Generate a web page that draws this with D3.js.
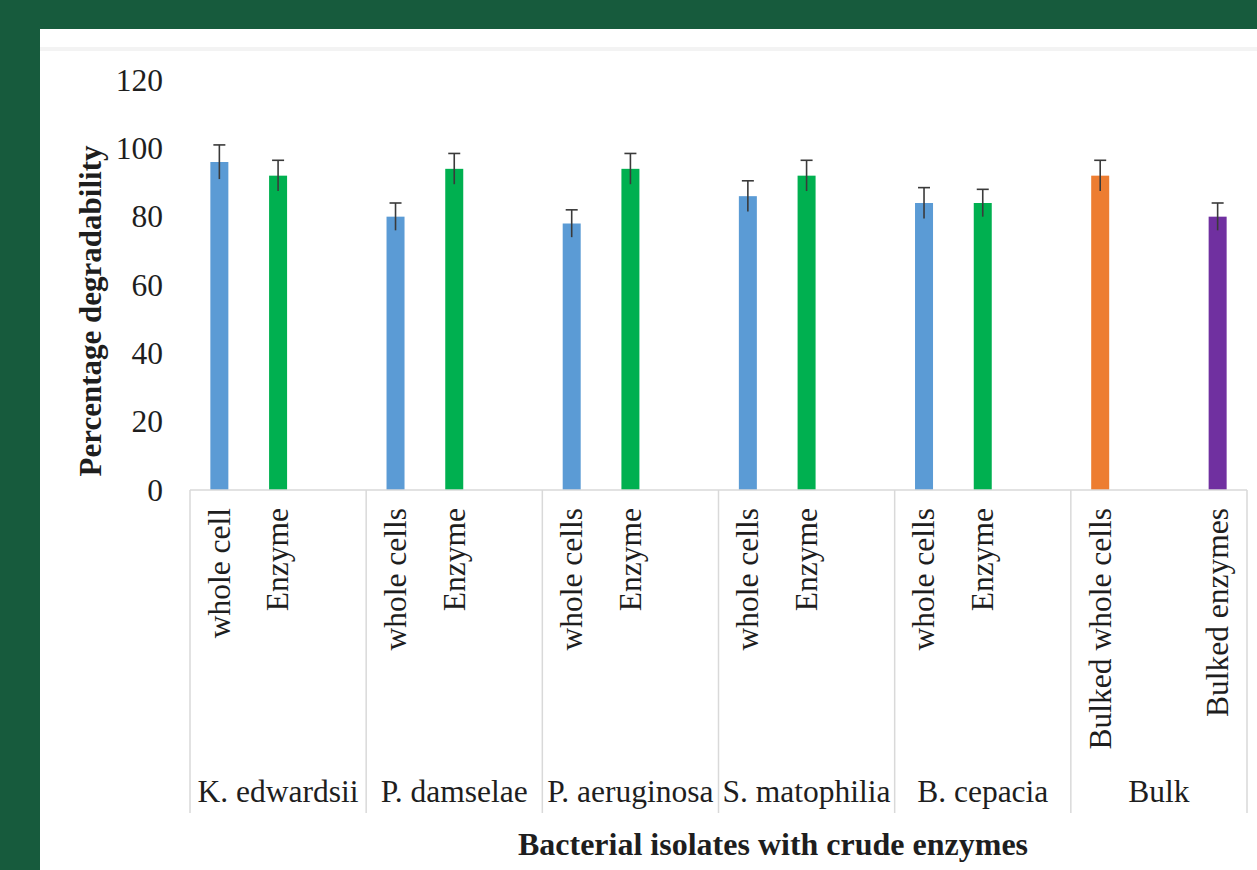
<!DOCTYPE html>
<html>
<head>
<meta charset="utf-8">
<script src="https://cdn.jsdelivr.net/npm/d3@7"></script>
<style>
  html, body { margin: 0; padding: 0; background: #175b3d; }
  svg { display: block; }
</style>
</head>
<body>
<div id="chart"></div>
<script>
// Groups (bacterial isolates) and their three category slots each
const groups = ["K. edwardsii", "P. damselae", "P. aeruginosa", "S. matophilia", "B. cepacia", "Bulk"];
const slotLabels = [
    ["whole cell", "Enzyme", ""],
    ["whole cells", "Enzyme", ""],
    ["whole cells", "Enzyme", ""],
    ["whole cells", "Enzyme", ""],
    ["whole cells", "Enzyme", ""],
    ["Bulked whole cells", "", "Bulked enzymes"]
];
const slotSeries = [
    ["whole", "enzyme", null],
    ["whole", "enzyme", null],
    ["whole", "enzyme", null],
    ["whole", "enzyme", null],
    ["whole", "enzyme", null],
    ["bulkWhole", null, "bulkEnzyme"]
];
const values = [
    [96, 92, null],
    [80, 94, null],
    [78, 94, null],
    [86, 92, null],
    [84, 84, null],
    [92, null, 80]
];
const errors = [
    [5, 4.5, null],
    [4, 4.5, null],
    [4, 4.5, null],
    [4.5, 4.5, null],
    [4.5, 4, null],
    [4.5, null, 4]
];
const yTicks = [0, 20, 40, 60, 80, 100, 120];
const seriesColors = { whole: '#5b9bd5', enzyme: '#00b050', bulkWhole: '#ed7d31', bulkEnzyme: '#7030a0' };

document.addEventListener('DOMContentLoaded', function() {
    const width = 1257, height = 870;
    const font = '"Liberation Serif", "Times New Roman", serif';
    const textColor = '#1e1e1e';

    const svg = d3.select('#chart')
        .append('svg')
        .attr('width', width)
        .attr('height', height);

    // White panel on the green page
    svg.append('rect')
        .attr('x', 40).attr('y', 29)
        .attr('width', width - 40).attr('height', height - 29)
        .attr('fill', '#ffffff');
    svg.append('rect')
        .attr('x', 40).attr('y', 47)
        .attr('width', width - 40).attr('height', 4)
        .attr('fill', '#f3f3f3');

    // Flatten slots
    const slots = [];
    groups.forEach((g, gi) => {
        slotLabels[gi].forEach((label, si) => {
            slots.push({
                id: gi + '-' + si,
                group: g,
                label: label,
                series: slotSeries[gi][si],
                value: values[gi][si],
                error: errors[gi][si]
            });
        });
    });

    const left = 190, right = 1247, top = 80, bottom = 490;

    const x = d3.scaleBand()
        .domain(slots.map(d => d.id))
        .range([left, right]);

    const xGroup = d3.scaleBand()
        .domain(groups)
        .range([left, right]);

    const y = d3.scaleLinear()
        .domain([0, 120])
        .range([bottom, top]);

    const barWidth = 18;

    // Y axis tick labels
    const yAxis = svg.append('g')
        .attr('transform', `translate(${left},0)`)
        .call(d3.axisLeft(y).tickValues(yTicks).tickSize(0).tickPadding(27));
    yAxis.select('.domain').remove();
    yAxis.selectAll('text')
        .attr('font-family', font)
        .attr('font-size', 31.5)
        .attr('fill', textColor);

    // Bars
    const bars = slots.filter(d => d.value !== null);
    svg.append('g')
        .selectAll('rect')
        .data(bars)
        .enter()
        .append('rect')
        .attr('x', d => x(d.id) + x.bandwidth() / 2 - barWidth / 2)
        .attr('y', d => y(d.value))
        .attr('width', barWidth)
        .attr('height', d => y(0) - y(d.value))
        .attr('fill', d => seriesColors[d.series]);

    // Error bars
    const err = svg.append('g')
        .attr('stroke', '#3a3a3a')
        .attr('stroke-width', 1.6);
    err.selectAll('line.v')
        .data(bars)
        .enter()
        .append('line')
        .attr('class', 'v')
        .attr('x1', d => x(d.id) + x.bandwidth() / 2)
        .attr('x2', d => x(d.id) + x.bandwidth() / 2)
        .attr('y1', d => y(d.value - d.error))
        .attr('y2', d => y(d.value + d.error));
    err.selectAll('line.cap')
        .data(bars)
        .enter()
        .append('line')
        .attr('class', 'cap')
        .attr('x1', d => x(d.id) + x.bandwidth() / 2 - 6)
        .attr('x2', d => x(d.id) + x.bandwidth() / 2 + 6)
        .attr('y1', d => y(d.value + d.error))
        .attr('y2', d => y(d.value + d.error));

    // X axis line and group separators
    svg.append('line')
        .attr('x1', left).attr('x2', right)
        .attr('y1', bottom).attr('y2', bottom)
        .attr('stroke', '#d9d9d9')
        .attr('stroke-width', 1.5);

    const bounds = groups.map(g => xGroup(g)).concat([right]);
    svg.append('g')
        .selectAll('line')
        .data(bounds)
        .enter()
        .append('line')
        .attr('x1', d => d).attr('x2', d => d)
        .attr('y1', bottom).attr('y2', 813)
        .attr('stroke', '#d9d9d9')
        .attr('stroke-width', 1.5);

    // Rotated category labels
    svg.append('g')
        .selectAll('text')
        .data(slots.filter(d => d.label))
        .enter()
        .append('text')
        .attr('transform', d => `translate(${x(d.id) + x.bandwidth() / 2},508) rotate(-90)`)
        .attr('dy', '0.33em')
        .attr('text-anchor', 'end')
        .attr('font-family', font)
        .attr('font-size', 31.5)
        .attr('fill', textColor)
        .text(d => d.label);

    // Group labels
    svg.append('g')
        .selectAll('text')
        .data(groups)
        .enter()
        .append('text')
        .attr('x', d => xGroup(d) + xGroup.bandwidth() / 2)
        .attr('y', 802)
        .attr('text-anchor', 'middle')
        .attr('font-family', font)
        .attr('font-size', 31.5)
        .attr('fill', textColor)
        .text(d => d);

    // Axis titles
    svg.append('text')
        .attr('x', 773)
        .attr('y', 855)
        .attr('text-anchor', 'middle')
        .attr('font-family', font)
        .attr('font-weight', 'bold')
        .attr('font-size', 32)
        .attr('fill', textColor)
        .text('Bacterial isolates with crude enzymes');

    svg.append('text')
        .attr('transform', 'translate(101,311) rotate(-90)')
        .attr('text-anchor', 'middle')
        .attr('font-family', font)
        .attr('font-weight', 'bold')
        .attr('font-size', 31)
        .attr('fill', textColor)
        .text('Percentage degradability');
});
</script>
</body>
</html>
